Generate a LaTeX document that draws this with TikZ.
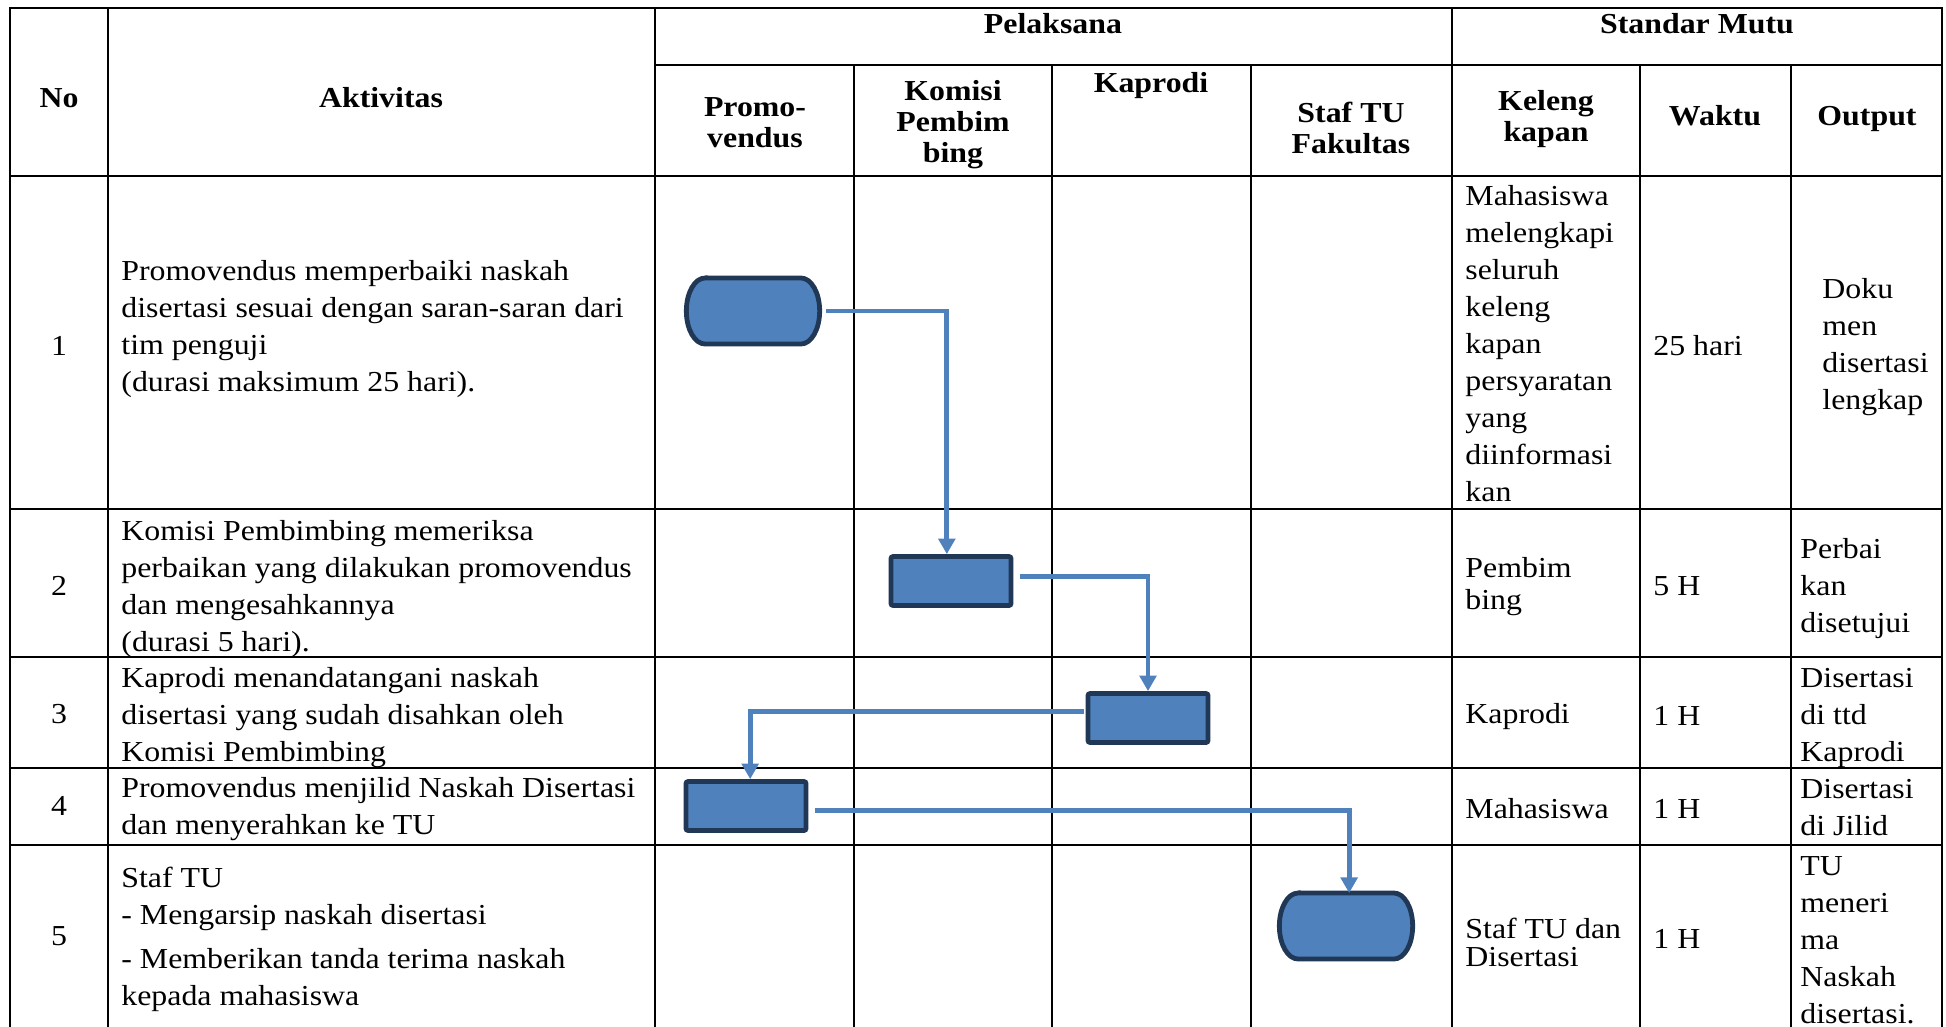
\documentclass[tikz,border=0pt]{standalone}
\usepackage{fontspec}
\setmainfont{Liberation Serif}[FakeStretch=1.1]
\usetikzlibrary{arrows.meta}

\definecolor{flowblue}{HTML}{4F81BD}
\definecolor{flowedge}{HTML}{203756}

\newcommand{\lcell}[1]{\begin{tabular}[t]{@{}l@{}}#1\end{tabular}}
\newcommand{\ccell}[1]{\begin{tabular}[t]{@{}c@{}}#1\end{tabular}}
\newcommand{\bodyfont}{\fontsize{13.9pt}{17.76pt}\selectfont}
\newcommand{\headfont}{\fontsize{13.9pt}{15pt}\selectfont\bfseries}

% terminator: flat top and bottom, half ellipses at the ends
\newcommand{\termshape}[1]{%
  \draw[blockline] ([xshift=9pt]#1.north west) -- ([xshift=-9pt]#1.north east)
    arc[start angle=90,end angle=-90,x radius=9pt,y radius=15.85pt]
    -- ([xshift=9pt]#1.south west)
    arc[start angle=270,end angle=90,x radius=9pt,y radius=15.85pt] -- cycle;}

\begin{document}
\begin{tikzpicture}[x=0.48pt,y=-0.48pt,
    bodytext/.style={anchor=base west,inner sep=0pt,font=\bodyfont},
    numtext/.style={anchor=base,inner sep=0pt,font=\bodyfont},
    headtext/.style={anchor=base,inner sep=0pt,font=\headfont},
    tableline/.style={line width=1.3pt,line cap=rect},
    blockline/.style={draw=flowedge,fill=flowblue,line width=2.3pt},
    procbox/.style={blockline,rounded corners=1pt,minimum width=57.6pt,minimum height=23.5pt,inner sep=0pt},
    termbox/.style={minimum width=64pt,minimum height=31.7pt,inner sep=0pt,outer sep=0pt},
    flow/.style={draw=flowblue,line width=2.3pt,-{Triangle[width=8pt,length=7.5pt]}}]
    \useasboundingbox (0,0) rectangle (1946,1026);

    % header
    \node[headtext] (hNo)   at (59,107)   {No};
    \node[headtext] (hAkt)  at (381,107)  {Aktivitas};
    \node[headtext] (hPel)  at (1053,33)  {Pelaksana};
    \node[headtext] (hStd)  at (1697,33)  {Standar Mutu};
    \node[headtext] (hPro)  at (755,116)  {\ccell{Promo-\\vendus}};
    \node[headtext] (hKom)  at (953,100)  {\ccell{Komisi\\Pembim\\bing}};
    \node[headtext] (hKap)  at (1151,92)  {Kaprodi};
    \node[headtext] (hStaf) at (1351,122) {\ccell{Staf TU\\Fakultas}};
    \node[headtext] (hKel)  at (1546,110) {\ccell{Keleng\\kapan}};
    \node[headtext] (hWkt)  at (1715,125) {Waktu};
    \node[headtext] (hOut)  at (1867,125) {Output};

    % rows
    \node[numtext] (no1) at (59,355) {1};
    \node[numtext] (no2) at (59,595) {2};
    \node[numtext] (no3) at (59,723) {3};
    \node[numtext] (no4) at (59,815) {4};
    \node[numtext] (no5) at (59,945) {5};

    \node[bodytext] (act1) at (121,280) {\lcell{Promovendus memperbaiki naskah\\disertasi sesuai dengan saran-saran dari\\tim penguji\\(durasi maksimum 25 hari).}};
    \node[bodytext] (act2) at (121,540) {\lcell{Komisi Pembimbing memeriksa\\perbaikan yang dilakukan promovendus\\dan mengesahkannya\\(durasi 5 hari).}};
    \node[bodytext] (act3) at (121,687) {\lcell{Kaprodi menandatangani naskah\\disertasi yang sudah disahkan oleh\\Komisi Pembimbing}};
    \node[bodytext] (act4) at (121,797) {\lcell{Promovendus menjilid Naskah Disertasi\\dan menyerahkan ke TU}};
    \node[bodytext] (act5) at (121,887) {\lcell{Staf TU\\- Mengarsip naskah disertasi\\[3.4pt]- Memberikan tanda terima naskah\\kepada mahasiswa}};

    \node[bodytext] (kel1) at (1465,205) {\lcell{Mahasiswa\\melengkapi\\seluruh\\keleng\\kapan\\persyaratan\\yang\\diinformasi\\kan}};
    \node[bodytext] (kel2) at (1465,577) {\lcell{Pembim\\[-2pt]bing}};
    \node[bodytext] (kel3) at (1465,723) {Kaprodi};
    \node[bodytext] (kel4) at (1465,818) {Mahasiswa};
    \node[bodytext] (kel5) at (1465,938) {\lcell{Staf TU dan\\[-4pt]Disertasi}};

    \node[bodytext] (wkt1) at (1653,355) {25 hari};
    \node[bodytext] (wkt2) at (1653,595) {5 H};
    \node[bodytext] (wkt3) at (1653,725) {1 H};
    \node[bodytext] (wkt4) at (1653,818) {1 H};
    \node[bodytext] (wkt5) at (1653,948) {1 H};

    \node[bodytext] (out1) at (1822,298) {\lcell{Doku\\men\\disertasi\\lengkap}};
    \node[bodytext] (out2) at (1800,558) {\lcell{Perbai\\kan\\disetujui}};
    \node[bodytext] (out3) at (1800,687) {\lcell{Disertasi\\di ttd\\Kaprodi}};
    \node[bodytext] (out4) at (1800,798) {\lcell{Disertasi\\di Jilid}};
    \node[bodytext] (out5) at (1800,875) {\lcell{TU\\meneri\\ma\\Naskah\\disertasi.}};

    % table rules
    \foreach \x in {10,108,655,1452,1942}
        \draw[tableline] (\x,8) -- (\x,1026);
    \foreach \x in {854,1052,1251,1640,1791}
        \draw[tableline] (\x,65) -- (\x,1026);
    \foreach \y in {8,176,509,657,768,845}
        \draw[tableline] (10,\y) -- (1942,\y);
    \draw[tableline] (655,65) -- (1942,65);

    % flow
    \node[termbox] (t1) at (753,311) {};
    \termshape{t1}
    \node[procbox] (b2) at (951,581) {};
    \node[procbox] (b3) at (1148,718) {};
    \node[procbox] (b4) at (746,806) {};
    \node[termbox] (t5) at (1346,926) {};
    \termshape{t5}

    \draw[flow] ([xshift=3pt]t1.east) -| ([xshift=-2pt]b2.north);
    \draw[flow] ([xshift=3pt,yshift=2pt]b2.east) -| (b3.north);
    \draw[flow] ([xshift=-1pt,yshift=3pt]b3.west) -| ([xshift=2pt]b4.north);
    \draw[flow] ([xshift=3pt,yshift=-2pt]b4.east) -| ([xshift=1.5pt]t5.north);
\end{tikzpicture}
\end{document}
